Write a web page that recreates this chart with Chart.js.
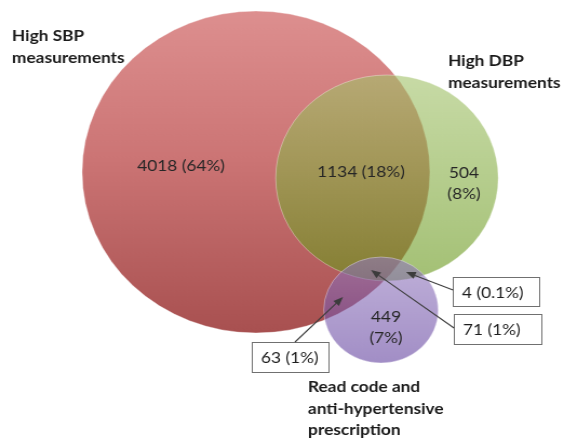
<!DOCTYPE html>
<html>
<head>
<meta charset="utf-8">
<title>High blood pressure case definitions</title>
<script src="https://cdn.jsdelivr.net/npm/chart.js@4.4.1/dist/chart.umd.min.js"></script>
<style>
  html, body { margin: 0; padding: 0; background: #ffffff; overflow: hidden; }
</style>
</head>
<body>
<!-- drawn at 522px and displayed at 564px, so the sets come out slightly wide -->
<canvas id="venn" width="522" height="440" style="width:564px;height:440px;display:block"></canvas>
<script>
// ---- data ----------------------------------------------------------------
const setTitles = [
  ['High SBP', 'measurements'],
  ['High DBP', 'measurements'],
  ['Read code and', 'anti-hypertensive', 'prescription']
];
const regionNames = ['SBP only', 'SBP and DBP', 'DBP only', 'Read code only',
                     'SBP and read code', 'All three', 'DBP and read code'];
const regionCounts = [4018, 1134, 504, 449, 63, 71, 4];
const regionPercents = [64, 18, 8, 7, 1, 1, 0.1];

// ---- layout (chart units: x 0-564, y 0-440 downwards) ---------------------
const setCircles = [
  { x: 256, y: 172, r: 161 },
  { x: 387, y: 178, r: 103 },
  { x: 381, y: 310, r: 53 }
];
const setFills = [
  [[0, 'rgb(221,143,143)'], [0.45, 'rgb(204,117,117)'], [1, 'rgb(168,80,80)']],
  [[0, 'rgba(162,194,106,0.6)'], [1, 'rgba(102,150,24,0.6)']],
  [[0, 'rgba(146,120,190,0.58)'], [1, 'rgba(94,60,156,0.58)']]
];
const titlePlaces = [{ x: 12, y: 41 }, { x: 448, y: 66 }, { x: 308, y: 392 }];
const insideLabels = [
  { region: 0, x: 181, y: 166, split: false },
  { region: 1, x: 361, y: 172, split: false },
  { region: 2, x: 464, y: 173, split: true },
  { region: 3, x: 386, y: 317, split: true }
];
const callouts = [
  { region: 4, box: [252, 342, 329, 372], from: [295, 342], to: [343, 297] },
  { region: 5, box: [454, 314, 541, 344], from: [454, 328], to: [371, 270] },
  { region: 6, box: [453, 277, 539, 306], from: [453, 290], to: [406, 272] }
];

const FONT = 'Lato, "Open Sans", "DejaVu Sans", sans-serif';

function regionText(i) {
  return regionCounts[i] + ' (' + regionPercents[i] + '%)';
}

// vertical gradient spanning one circle, placed through the y scale
function circleGradient(context, idx) {
  const chart = context.chart;
  const ys = chart.scales.y;
  const c = setCircles[idx];
  const stops = setFills[idx];
  if (!chart.chartArea || !ys) return stops[0][1];
  const top = ys.getPixelForValue(c.y - c.r);
  const bottom = ys.getPixelForValue(c.y + c.r);
  if (!isFinite(top) || !isFinite(bottom)) return stops[0][1];
  const g = chart.ctx.createLinearGradient(0, top, 0, bottom);
  stops.forEach(s => g.addColorStop(s[0], s[1]));
  return g;
}

// circle radius in pixels, measured on the y scale
function circleRadius(context, idx) {
  const ys = context.chart.scales.y;
  const c = setCircles[idx];
  if (!ys) return 0;
  const r = Math.abs(ys.getPixelForValue(c.y + c.r) - ys.getPixelForValue(c.y));
  return isFinite(r) ? r : 0;
}

const datasets = setCircles.map((c, i) => ({
  label: setTitles[i].join(' '),
  data: [{ x: c.x, y: c.y }],
  order: setCircles.length - i,
  clip: false,
  showLine: false,
  pointRadius: ctx => circleRadius(ctx, i),
  pointBackgroundColor: ctx => circleGradient(ctx, i),
  pointBorderColor: 'rgba(255,255,255,0.35)',
  pointBorderWidth: 1
}));

function arrow(ctx, x1, y1, x2, y2) {
  const ang = Math.atan2(y2 - y1, x2 - x1);
  const len = 9, half = 3.6;
  const bx = x2 - Math.cos(ang) * len, by = y2 - Math.sin(ang) * len;
  ctx.beginPath();
  ctx.moveTo(x1, y1);
  ctx.lineTo(bx, by);
  ctx.stroke();
  ctx.beginPath();
  ctx.moveTo(x2, y2);
  ctx.lineTo(bx - Math.sin(ang) * half, by + Math.cos(ang) * half);
  ctx.lineTo(bx + Math.sin(ang) * half, by - Math.cos(ang) * half);
  ctx.closePath();
  ctx.fill();
}

const vennText = {
  id: 'vennText',
  afterDatasetsDraw(chart) {
    const ctx = chart.ctx;
    const xs = chart.scales.x, ys = chart.scales.y;
    const px = v => xs.getPixelForValue(v);
    const py = v => ys.getPixelForValue(v);
    ctx.save();

    // set titles
    ctx.fillStyle = '#1a1a1a';
    ctx.font = 'bold 16px ' + FONT;
    ctx.textAlign = 'left';
    ctx.textBaseline = 'alphabetic';
    setTitles.forEach((lines, i) => {
      const p = titlePlaces[i];
      lines.forEach((t, k) => ctx.fillText(t, px(p.x), py(p.y + k * 21.5)));
    });

    // counts written inside the circles
    ctx.font = '16px ' + FONT;
    ctx.textAlign = 'center';
    ctx.textBaseline = 'middle';
    ctx.fillStyle = '#262626';
    insideLabels.forEach(l => {
      const i = l.region;
      const lines = l.split
        ? [String(regionCounts[i]), '(' + regionPercents[i] + '%)']
        : [regionText(i)];
      lines.forEach((t, k) => ctx.fillText(t, px(l.x), py(l.y + k * 20.5)));
    });

    // boxed callouts with arrows
    callouts.forEach(c => {
      const [x0, y0, x1, y1] = c.box;
      const left = Math.round(px(x0)) + 0.5, top = Math.round(py(y0)) + 0.5;
      const w = Math.round(px(x1) - px(x0)), h = Math.round(py(y1) - py(y0));
      ctx.fillStyle = '#ffffff';
      ctx.fillRect(left, top, w, h);
      ctx.strokeStyle = '#707070';
      ctx.lineWidth = 1;
      ctx.strokeRect(left, top, w, h);

      ctx.strokeStyle = '#3c3c3c';
      ctx.fillStyle = '#3c3c3c';
      ctx.lineWidth = 1.1;
      arrow(ctx, px(c.from[0]), py(c.from[1]), px(c.to[0]), py(c.to[1]));

      ctx.fillStyle = '#1e1e1e';
      ctx.textAlign = 'left';
      ctx.textBaseline = 'middle';
      ctx.fillText(regionText(c.region), left + 8, top + h / 2 + 0.5);
    });
    ctx.restore();
  }
};

new Chart(document.getElementById('venn'), {
  type: 'scatter',
  data: { datasets },
  options: {
    responsive: false,
    animation: false,
    devicePixelRatio: 1,
    events: [],
    layout: { padding: 0, autoPadding: false },
    plugins: { legend: { display: false }, tooltip: { enabled: false } },
    scales: {
      x: { type: 'linear', min: 0, max: 564, display: false },
      y: { type: 'linear', min: 0, max: 440, reverse: true, display: false }
    }
  },
  plugins: [vennText]
});
</script>
</body>
</html>
